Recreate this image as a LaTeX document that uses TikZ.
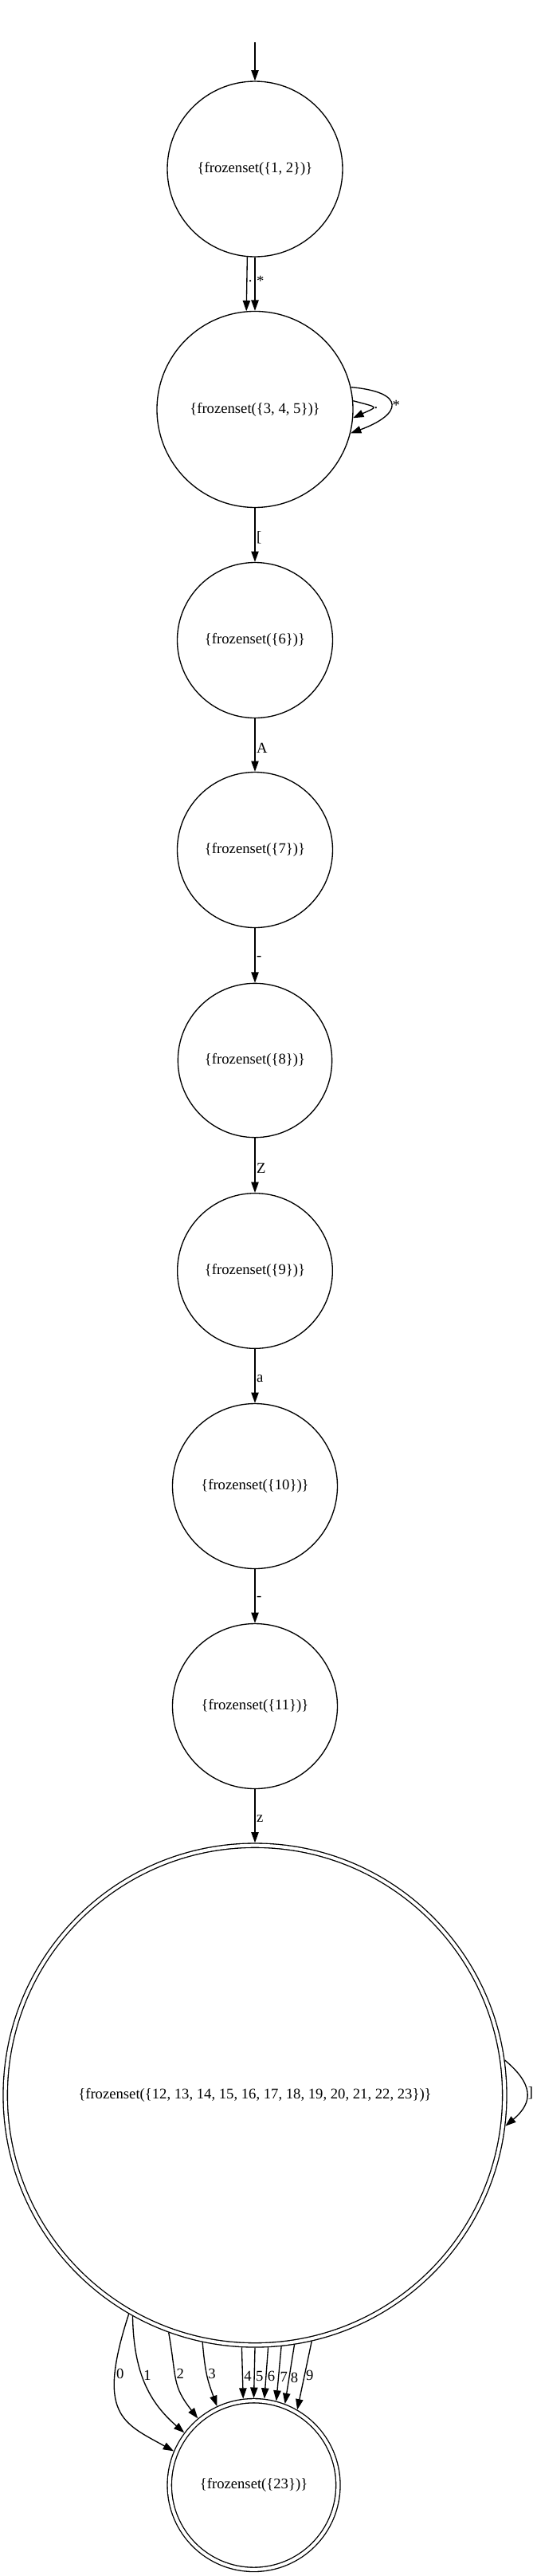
\documentclass[tikz,border=0pt]{standalone}
\usepackage{fontspec}
\setmainfont{Liberation Serif}
\usetikzlibrary{arrows.meta}
\begin{document}
\begin{tikzpicture}[x=1pt,y=1pt,line width=1pt,font=\fontsize{14}{16}\selectfont,
	>={Triangle[length=10pt,width=7pt]},
	state/.style={draw,circle,inner sep=0pt,outer sep=.5pt},
	final/.style={state,double,double distance=3pt,outer sep=2.5pt},
	lbl/.style={inner sep=1pt,anchor=west}]
	\useasboundingbox (0,0) rectangle (501,-2423.25);
	\coordinate (start) at (240,-39.75);
	\node [state,minimum size=165pt] (n0) at (240,-159) {\{frozenset(\{1, 2\})\}};
	\node [state,minimum size=184.5pt] (n1) at (240,-385.1) {\{frozenset(\{3, 4, 5\})\}};
	\node [state,minimum size=146.25pt] (n2) at (240,-602.25) {\{frozenset(\{6\})\}};
	\node [state,minimum size=146.25pt] (n3) at (240,-799.5) {\{frozenset(\{7\})\}};
	\node [state,minimum size=145pt] (n4) at (240,-997.5) {\{frozenset(\{8\})\}};
	\node [state,minimum size=146pt] (n5) at (240,-1195.5) {\{frozenset(\{9\})\}};
	\node [state,minimum size=155.25pt] (n6) at (240,-1398) {\{frozenset(\{10\})\}};
	\node [state,minimum size=155.25pt] (n7) at (240,-1605) {\{frozenset(\{11\})\}};
	\node [final,minimum size=470pt] (n8) at (240,-1971) {\{frozenset(\{12, 13, 14, 15, 16, 17, 18, 19, 20, 21, 22, 23\})\}};
	\node [final,minimum size=158.75pt] (n9) at (238.9,-2337.75) {\{frozenset(\{23\})\}};
	\draw [->] (start) -- (n0);
	\draw [->] (n0.265) -- node [lbl,pos=.45] {.} (n1.95);
	\draw [->] (n0) -- node [lbl,pos=.45] {*} (n1);
	\draw [->] (n1.5) to [out=-15,in=25,distance=26pt] node [lbl] {.} (n1.-5);
	\draw [->] (n1.13) to [out=-5,in=20,distance=52pt] node [lbl] {*} (n1.-14);
	\draw [->] (n1) -- node [lbl,pos=.55] {[} (n2);
	\draw [->] (n2) -- node [lbl,pos=.55] {A} (n3);
	\draw [->] (n3) -- node [lbl,pos=.55] {-} (n4);
	\draw [->] (n4) -- node [lbl,pos=.55] {Z} (n5);
	\draw [->] (n5) -- node [lbl,pos=.55] {a} (n6);
	\draw [->] (n6) -- node [lbl,pos=.55] {-} (n7);
	\draw [->] (n7) -- node [lbl,pos=.55] {z} (n8);
	\draw [->] (n8.8) to [out=-40,in=40,distance=35pt] node [lbl] {]} (n8.-7);
	\draw [->] (n8.240) to [out=252,in=151,out distance=100pt,in distance=55pt] node [lbl,pos=.25] {0} (n9.157);
	\draw [->] (n8.241) to [out=271,in=139,out distance=52pt,in distance=45pt] node [lbl,pos=.43] {1} (n9.143);
	\draw [->] (n8.250) to [out=280,in=128,out distance=45pt,in distance=40pt] node [lbl,pos=.4] {2} (n9.130);
	\draw [->] (n8.258) to [out=275,in=110,out distance=30pt,in distance=26pt] node [lbl,pos=.45] {3} (n9.115);
	\draw [->] (n8.267) -- node [lbl,pos=.56] {4} (n9.97);
	\draw [->] (n8.270) -- node [lbl,pos=.56] {5} (n9.90);
	\draw [->] (n8.273) -- node [lbl,pos=.56] {6} (n9.83);
	\draw [->] (n8.276) -- node [lbl,pos=.56] {7} (n9.75);
	\draw [->] (n8.279) -- node [lbl,pos=.56] {8} (n9.69);
	\draw [->] (n8.283) -- node [lbl,pos=.5] {9} (n9.60);
\end{tikzpicture}
\end{document}
